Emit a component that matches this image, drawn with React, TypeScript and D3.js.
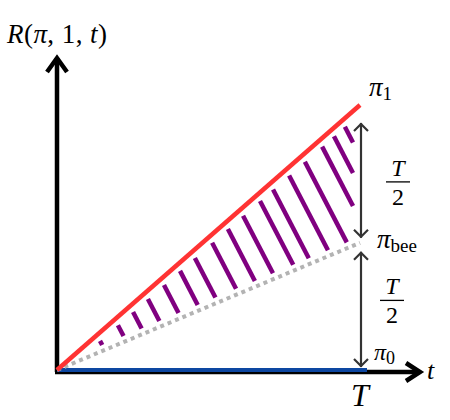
import React from "react";
import * as d3 from "d3";

// Data (T = 1, payoffs normalised)
const T = 1;
const pi0 = 0;
const pi1 = 1;
const piBee = 0.48;
const redLine = [
  { t: 0, v: pi0 },
  { t: T, v: pi1 },
];
const grayLine = [
  { t: 0, v: pi0 },
  { t: T, v: piBee },
];
const blueLine = [
  { t: 0, v: pi0 },
  { t: T, v: pi0 },
];
// hatch dash positions (fraction of T where each dash starts under the red line)
const hatchT = [0.142, 0.201, 0.251, 0.3, 0.353, 0.406, 0.455, 0.512, 0.564, 0.614, 0.67, 0.713, 0.766, 0.818, 0.875, 0.914, 0.95];

const W = 450;
const H = 420;

export default function App() {
  const x = d3.scaleLinear().domain([0, T]).range([57, 360]);
  const y = d3.scaleLinear().domain([0, pi1]).range([370, 105]);
  const line = d3
    .line<{ t: number; v: number }>()
    .x((d) => x(d.t))
    .y((d) => y(d.v));

  const x0 = x(0);
  const y0 = y(0);
  const kGray = (y(0) - y(piBee)) / (x(T) - x(0));
  const s = 0.52;
  const xMax = 353;
  const dashes = hatchT.map((t) => {
    const xt = x(t);
    const yt = y(t * pi1) + 8.5;
    let d = (y0 - 6 - kGray * (xt - x0) - yt) / (1 + kGray * s);
    d = Math.min(d, (xMax - xt) / s);
    return { x1: xt, y1: yt, x2: xt + s * d, y2: yt + d };
  });

  const xa = x(T) + 1;
  const math = "'Liberation Serif', 'DejaVu Serif', serif";

  return (
    <svg width={W} height={H} style={{ position: "absolute", left: 0, top: 0 }}>
      <rect width={W} height={H} fill="#fff" />
      {/* axes */}
      <line x1={x0} y1={y0 + 2} x2={x0} y2={58} stroke="#000" strokeWidth={4.5} />
      <polyline points={`${x0 - 10},72 ${x0},58 ${x0 + 10},72`} fill="none" stroke="#000" strokeWidth={4.5} strokeLinejoin="miter" />
      <line x1={x0 - 2} y1={y0 + 2} x2={420} y2={y0 + 2} stroke="#000" strokeWidth={4.5} />
      <polyline points={`406,${y0 - 7} 420,${y0 + 2} 406,${y0 + 11}`} fill="none" stroke="#000" strokeWidth={4.5} strokeLinejoin="miter" />
      {/* blue pi0 line */}
      <path d={line(blueLine) || ""} stroke="#0d47a1" strokeWidth={4} fill="none" />
      <line x1={x(T)} y1={y0} x2={x(T) + 7} y2={y0} stroke="#0d47a1" strokeWidth={4} />
      {/* hatch dashes */}
      {dashes.map((d, i) => (
        <line key={i} x1={d.x1} y1={d.y1} x2={d.x2} y2={d.y2} stroke="#800080" strokeWidth={4.5} />
      ))}
      {/* gray dotted pi_bee line */}
      <path d={line(grayLine) || ""} stroke="#b3b3b3" strokeWidth={4} strokeDasharray="4 4" fill="none" />
      {/* red pi1 line */}
      <path d={line(redLine) || ""} stroke="#ff3333" strokeWidth={4.5} fill="none" />
      {/* vertical double arrows */}
      {[
        [y(pi1) + 18, y(piBee) - 5],
        [y(piBee) + 9, y(pi0) - 3],
      ].map(([a, b], i) => (
        <g key={i} stroke="#333" strokeWidth={2.2} fill="none">
          <line x1={xa} y1={a} x2={xa} y2={b} />
          <polyline points={`${xa - 7},${a + 8} ${xa},${a + 1} ${xa + 7},${a + 8}`} />
          <polyline points={`${xa - 7},${b - 8} ${xa},${b - 1} ${xa + 7},${b - 8}`} />
        </g>
      ))}
      {/* labels */}
      <text x={7} y={43} fontFamily={math} fontSize={27} fill="#000" textLength={100} lengthAdjust="spacing">
        <tspan fontStyle="italic">R</tspan>
        <tspan>(</tspan>
        <tspan fontStyle="italic">π</tspan>
        <tspan>, 1, </tspan>
        <tspan fontStyle="italic">t</tspan>
        <tspan>)</tspan>
      </text>
      <text x={369} y={96} fontFamily={math} fontSize={27} fill="#000">
        <tspan fontStyle="italic">π</tspan>
        <tspan fontSize={19} dy={4}>1</tspan>
      </text>
      <text x={377} y={248} fontFamily={math} fontSize={27} fill="#000">
        <tspan fontStyle="italic">π</tspan>
        <tspan fontSize={19} dy={4}>bee</tspan>
      </text>
      <text x={374} y={360} fontFamily={math} fontSize={24} fill="#000">
        <tspan fontStyle="italic">π</tspan>
        <tspan fontSize={18} dy={4}>0</tspan>
      </text>
      {[
        { cx: 398, bar: y(pi1) + (y(piBee) - y(pi1)) / 2 + 8 },
        { cx: 392, bar: y(piBee) + (y(pi0) - y(piBee)) / 2 - 6 },
      ].map((f, i) => (
        <g key={i} fontFamily={math} fontSize={24} fill="#000" textAnchor="middle">
          <text x={f.cx} y={f.bar - 6} fontStyle="italic">T</text>
          <line x1={f.cx - 12} y1={f.bar} x2={f.cx + 12} y2={f.bar} stroke="#000" strokeWidth={1.3} />
          <text x={f.cx} y={f.bar + 23}>2</text>
        </g>
      ))}
      <text x={427} y={379} fontFamily={math} fontSize={26} fontStyle="italic" fill="#000">t</text>
      <text x={x(T)} y={406} fontFamily={math} fontSize={32} fontStyle="italic" textAnchor="middle" fill="#000">T</text>
    </svg>
  );
}
